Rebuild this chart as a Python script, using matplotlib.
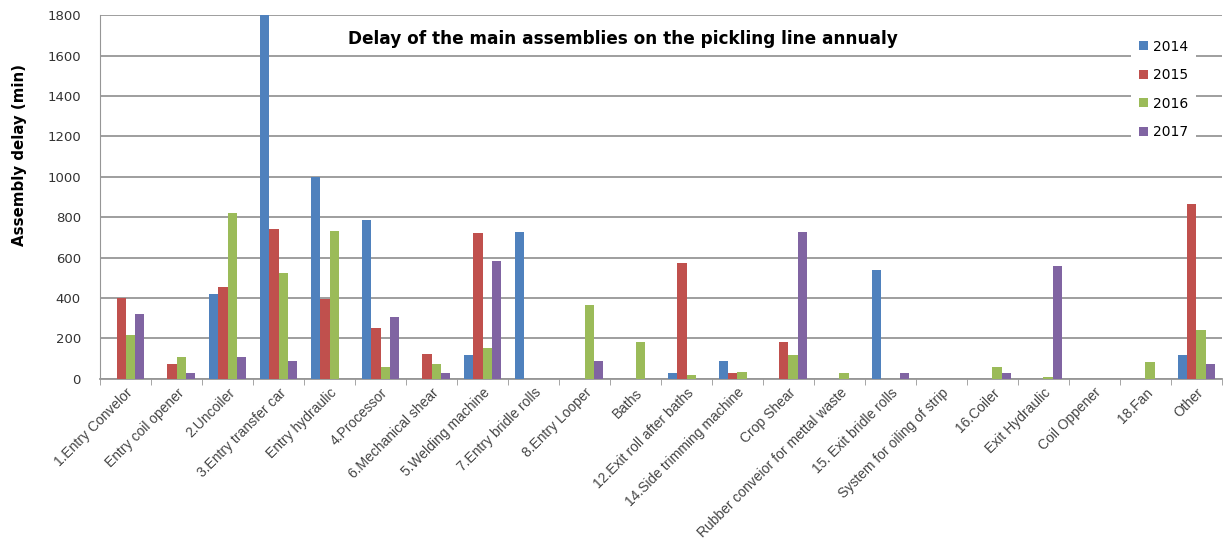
import numpy as np
import matplotlib
matplotlib.use("Agg")
import matplotlib.pyplot as plt

# Annual delay (min) per assembly of the pickling line
assemblies = ["1.Entry Convelor", "Entry coil opener", "2.Uncoiler",
              "3.Entry transfer car", "Entry hydraulic", "4.Processor",
              "6.Mechanical shear", "5.Welding machine", "7.Entry bridle rolls",
              "8.Entry Looper", "Baths", "12.Exit roll after baths",
              "14.Side trimming machine", "Crop Shear",
              "Rubber conveior for mettal waste", "15. Exit bridle rolls",
              "System for oiling of strip", "16.Coiler", "Exit Hydraulic",
              "Coil Oppener", "18.Fan", "Other"]

years = ["2014", "2015", "2016", "2017"]

delay_2014 = [0, 0, 420, 1800, 1000, 785, 0, 115, 725, 0, 0, 30,
              90, 0, 0, 540, 0, 0, 0, 0, 0, 115]
delay_2015 = [400, 75, 455, 740, 395, 250, 120, 720, 0, 0, 0, 575,
              30, 180, 0, 0, 0, 0, 0, 0, 0, 865]
delay_2016 = [215, 105, 820, 525, 730, 60, 75, 150, 0, 365, 180, 20,
              35, 115, 30, 0, 0, 60, 10, 0, 85, 240]
delay_2017 = [320, 30, 105, 90, 0, 305, 30, 585, 0, 90, 0, 0,
              0, 725, 0, 30, 0, 30, 560, 0, 0, 75]

colors = ["#4F81BD", "#C0504D", "#9BBB59", "#8064A2"]

fig = plt.figure(figsize=(12.23, 5.41), dpi=100)
ax = fig.add_axes([0.082, 0.30, 0.917, 0.672])

x = np.arange(len(assemblies))
width = 1 / 5.5
series = [delay_2014, delay_2015, delay_2016, delay_2017]
for i, (vals, col, yr) in enumerate(zip(series, colors, years)):
    ax.bar(x + (i - 1.5) * width, vals, width, color=col, label=yr,
           zorder=3, linewidth=0)

ax.set_xlim(-0.5, len(assemblies) - 0.5)
ax.set_ylim(0, 1800)
ax.set_yticks(np.arange(0, 1801, 200))
ax.yaxis.grid(True, color="#969696", linewidth=1.3, zorder=0)
ax.tick_params(axis="y", length=0, labelsize=9.5, labelcolor="#333333", pad=14)

# category labels at centres, tick marks at category boundaries
ax.set_xticks(x)
ax.set_xticklabels(assemblies, rotation=45, ha="right", va="top",
                   rotation_mode="anchor", fontsize=10, color="#444444",
                   family="Liberation Sans")
ax.tick_params(axis="x", length=0, pad=5)
ax.set_xticks(np.arange(-0.5, len(assemblies)), minor=True)
ax.tick_params(axis="x", which="minor", length=4, color="#969696", direction="out")

for s in ["top", "right"]:
    ax.spines[s].set_visible(False)
ax.spines["left"].set_color("#969696")
ax.spines["bottom"].set_color("#969696")
ax.spines["bottom"].set_linewidth(1.3)

ax.set_ylabel("Assembly delay (min)", fontsize=10.8, fontweight="bold")
ax.yaxis.set_label_coords(-0.065, 0.615)

ax.text(0.221, 0.935, "Delay of the main assemblies on the pickling line annualy",
        transform=ax.transAxes, fontsize=12.2, fontweight="bold", ha="left",
        va="center", zorder=5)

leg = ax.legend(loc="upper left", bbox_to_anchor=(0.913, 0.975), frameon=True,
                fontsize=10, handlelength=0.6, handleheight=0.6,
                handletextpad=0.35, labelspacing=1.05, borderpad=0.6)
leg.get_frame().set_edgecolor("none")
leg.get_frame().set_facecolor("white")
leg.get_frame().set_alpha(1)
leg.set_zorder(6)

fig.savefig("out.png", dpi=100)
